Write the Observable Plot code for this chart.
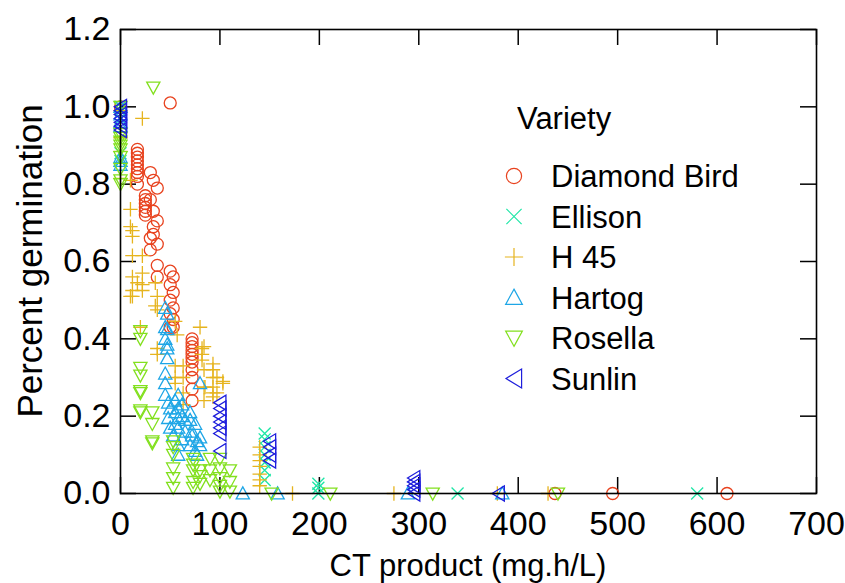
<!DOCTYPE html>
<html>
<head>
<meta charset="utf-8">
<script src="https://cdn.jsdelivr.net/npm/d3@7"></script>
<script src="https://cdn.jsdelivr.net/npm/@observablehq/plot@0.6"></script>
<style>
  html, body { margin: 0; padding: 0; background: #fff; }
  #chart { width: 845px; height: 583px; }
</style>
</head>
<body>
<div id="chart"></div>
<script>
const varieties = ["Diamond Bird", "Ellison", "H 45", "Hartog", "Rosella", "Sunlin"];
const colors = ["#E8421E", "#1EE6A6", "#E6B41E", "#1EA6E6", "#82E01E", "#1E1EDC"];
const xTicks = [0, 100, 200, 300, 400, 500, 600, 700];
const yTicks = [0, 0.2, 0.4, 0.6, 0.8, 1.0, 1.2];

const diamondBirdX = [0,0,50,17,17,17,17,17,17,17,17,17,25,25,25,25,25,25,30,30,30,30,33,33,33,33,37,37,37,37,37,50,50,50,50,50,53,53,53,53,53,72,72,72,72,72,72,72,72,72,72,72,437,495,610];
const diamondBirdY = [1.00,0.99,1.01,0.89,0.88,0.87,0.86,0.85,0.84,0.83,0.82,0.80,0.77,0.76,0.75,0.74,0.73,0.72,0.83,0.76,0.66,0.63,0.81,0.73,0.69,0.67,0.79,0.705,0.645,0.59,0.56,0.575,0.54,0.50,0.465,0.43,0.56,0.52,0.48,0.45,0.43,0.40,0.39,0.38,0.37,0.36,0.35,0.34,0.32,0.30,0.27,0.24,0,0,0];

const ellisonX = [0,0,0,0,145,145,145,145,145,145,145,199,199,199,339,580];
const ellisonY = [1.0,0.97,0.88,0.86,0.155,0.14,0.12,0.10,0.08,0.06,0.035,0.025,0.015,0,0,0];

const h45X = [0,0,0,0,22,10,10,10,12,12,12,12,12,12,17,10,22,22,22,22,20,35,35,37,37,37,37,55,55,55,55,57,63,63,63,63,80,82,82,82,84,84,84,84,85,93,93,93,93,93,93,97,97,103,103,140,140,140,140,140,140,140,173,275,379,430];
const h45Y = [0.99,0.92,0.885,0.815,0.97,0.81,0.735,0.69,0.68,0.665,0.615,0.56,0.525,0.51,0.545,0.51,0.615,0.57,0.54,0.525,0.43,0.545,0.485,0.51,0.475,0.375,0.36,0.445,0.33,0.30,0.285,0.41,0.33,0.30,0.26,0.23,0.43,0.375,0.36,0.345,0.38,0.32,0.275,0.24,0.275,0.32,0.30,0.275,0.26,0.25,0.335,0.30,0.26,0.29,0.285,0.12,0.10,0.085,0.07,0.05,0.035,0.02,0,0,0,0];

const hartogX = [0,0,0,0,0,0,0,45,45,45,45,45,45,47,47,47,47,47,48,48,50,50,53,55,55,55,58,58,58,58,58,58,62,62,62,65,65,70,70,70,72,72,75,75,77,77,80,80,80,123,158,289,384];
const hartogY = [1.0,0.98,0.96,0.95,0.87,0.86,0.85,0.48,0.43,0.40,0.31,0.285,0.255,0.465,0.425,0.385,0.375,0.35,0.235,0.195,0.17,0.22,0.15,0.24,0.21,0.18,0.255,0.22,0.195,0.17,0.125,0.10,0.23,0.20,0.14,0.19,0.16,0.21,0.19,0.125,0.16,0.15,0.18,0.11,0.135,0.10,0.285,0.145,0.125,0,0,0,0];

const rosellaX = [0,0,0,0,0,0,0,0,0,0,33,20,20,20,20,20,20,20,20,32,32,32,32,53,53,53,53,53,53,73,73,73,73,73,80,80,80,90,90,90,100,100,100,100,100,110,110,110,152,211,314,440];
const rosellaY = [1.0,0.93,0.92,0.91,0.90,0.89,0.87,0.84,0.81,0.80,1.05,0.42,0.40,0.325,0.305,0.265,0.26,0.215,0.21,0.21,0.18,0.135,0.13,0.135,0.12,0.10,0.065,0.04,0.015,0.09,0.075,0.06,0.03,0.015,0.06,0.045,0.025,0.09,0.06,0.035,0.09,0.065,0.04,0.02,0.005,0.06,0.03,0.005,0,0,0,0];

const sunlinX = [0,0,0,0,0,0,0,100,100,100,100,100,100,100,150,150,150,150,295,295,295,295,295,380];
const sunlinY = [1.0,0.99,0.98,0.97,0.96,0.95,0.94,0.235,0.22,0.20,0.185,0.17,0.155,0.11,0.135,0.12,0.10,0.085,0.04,0.03,0.02,0.01,0,0];

const seriesX = [diamondBirdX, ellisonX, h45X, hartogX, rosellaX, sunlinX];
const seriesY = [diamondBirdY, ellisonY, h45Y, hartogY, rosellaY, sunlinY];

// custom marker shapes (size = PI * r^2)
const rad = size => Math.sqrt(size / Math.PI);
const symCircle = {draw(c, size) { const r = rad(size); c.moveTo(r, 0); c.arc(0, 0, r, 0, 2 * Math.PI); }};
const symTimes = {draw(c, size) { const r = rad(size) * 1.0; c.moveTo(-r, -r); c.lineTo(r, r); c.moveTo(r, -r); c.lineTo(-r, r); }};
const symPlus = {draw(c, size) { const r = rad(size) * 1.2; c.moveTo(-r, 0); c.lineTo(r, 0); c.moveTo(0, -r); c.lineTo(0, r); }};
const symUp = {draw(c, size) { const r = rad(size); c.moveTo(0, -1.1 * r); c.lineTo(1.1 * r, 0.9 * r); c.lineTo(-1.1 * r, 0.9 * r); c.closePath(); }};
const symDown = {draw(c, size) { const r = rad(size); c.moveTo(0, 1.1 * r); c.lineTo(1.1 * r, -0.9 * r); c.lineTo(-1.1 * r, -0.9 * r); c.closePath(); }};
const symLeft = {draw(c, size) { const r = rad(size); c.moveTo(-1.05 * r, 0); c.lineTo(1.0 * r, -1.25 * r); c.lineTo(1.0 * r, 1.25 * r); c.closePath(); }};
const symbols = [symCircle, symTimes, symPlus, symUp, symDown, symLeft];

const W = 845, H = 583;
const mL = 120, mR = 29, mT = 29, mB = 90;
const fw = W - mL - mR, fh = H - mT - mB;
const tickLen = 16;
const FONT = "'Liberation Sans', Arial, sans-serif";

const marks = [];
varieties.forEach((v, i) => {
  const rows = seriesX[i].map((x, j) => ({variety: v, x, y: seriesY[i][j]}));
  marks.push(Plot.dot(rows, {x: "x", y: "y", symbol: symbols[i], r: 6, stroke: colors[i], fill: "none", strokeWidth: 1.3}));
});

const plot = Plot.plot({
  width: W, height: H,
  marginLeft: mL, marginRight: mR, marginTop: mT, marginBottom: mB,
  style: {fontFamily: FONT, background: "#fff", color: "#000"},
  x: {domain: [0, 700]},
  y: {domain: [0, 1.2]},
  marks: [
    Plot.tickX(xTicks, {x: d => d, insetTop: fh - tickLen, stroke: "#000", strokeWidth: 1.5}),
    Plot.tickX(xTicks, {x: d => d, insetBottom: fh - tickLen, stroke: "#000", strokeWidth: 1.5}),
    Plot.tickY(yTicks, {y: d => d, insetRight: fw - tickLen, stroke: "#000", strokeWidth: 1.5}),
    Plot.tickY(yTicks, {y: d => d, insetLeft: fw - tickLen, stroke: "#000", strokeWidth: 1.5}),
    Plot.axisX({ticks: xTicks, tickSize: 0, tickPadding: 17, fontSize: 34, label: null, tickFormat: d => String(d)}),
    Plot.axisY({ticks: yTicks, tickSize: 0, tickPadding: 10, fontSize: 34, label: null, tickFormat: d => d.toFixed(1)}),
    ...marks,
    Plot.frame({stroke: "#000", strokeWidth: 1.6})
  ]
});

document.getElementById("chart").appendChild(plot);

const svg = d3.select(plot);

svg.append("text")
  .attr("x", mL + fw / 2).attr("y", 576)
  .attr("text-anchor", "middle")
  .style("font-size", "31px").style("font-family", FONT)
  .text("CT product (mg.h/L)");
svg.append("text")
  .attr("transform", `translate(42,${mT + fh / 2}) rotate(-90)`)
  .attr("text-anchor", "middle")
  .style("font-size", "35px").style("font-family", FONT)
  .text("Percent germination");

const lg = svg.append("g").style("font-family", FONT).attr("text-anchor", "start");
lg.append("text").attr("x", 517).attr("y", 129).attr("text-anchor", "start").style("font-size", "31px").text("Variety");
varieties.forEach((v, i) => {
  const cy = 176 + i * 40.5;
  lg.append("path")
    .attr("transform", `translate(514,${cy})`)
    .attr("d", d3.symbol(symbols[i], Math.PI * 7.6 * 7.6)())
    .attr("fill", "none").attr("stroke", colors[i]).attr("stroke-width", 1.2);
  lg.append("text").attr("x", 551).attr("y", cy + 11).attr("text-anchor", "start").style("font-size", "31px").text(v);
});
</script>
</body>
</html>
